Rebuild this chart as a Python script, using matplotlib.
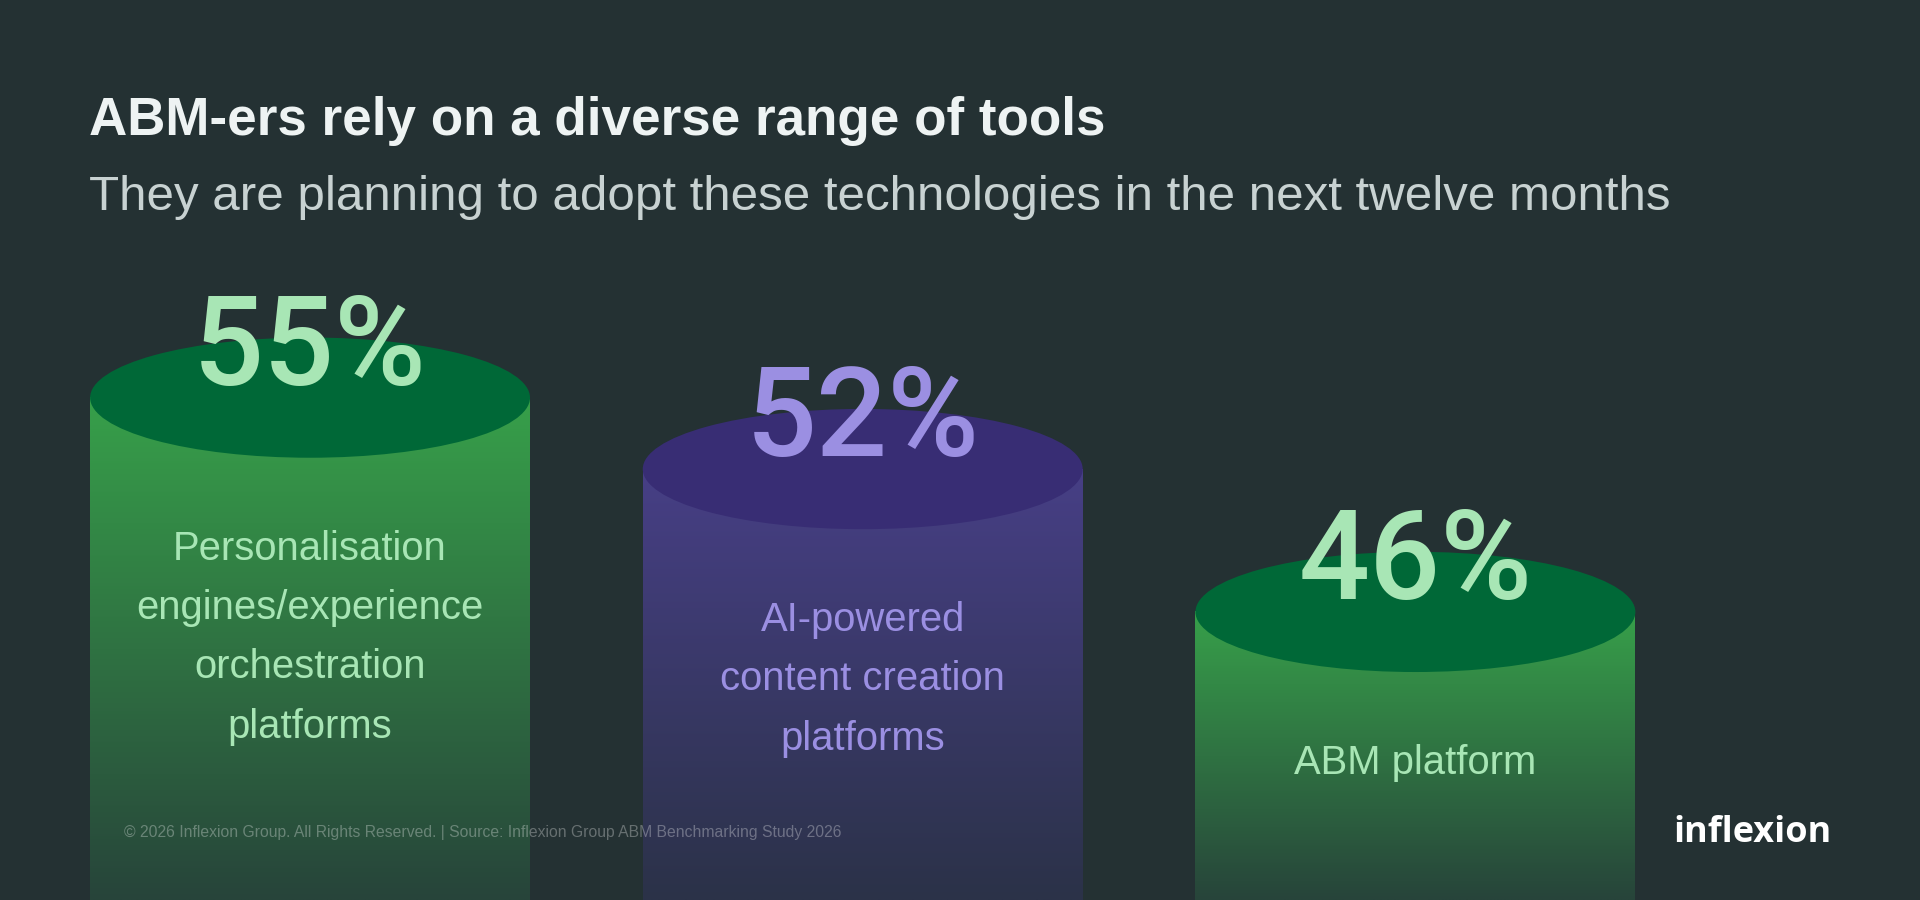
import numpy as np
import matplotlib.pyplot as plt
from matplotlib.patches import Ellipse
from matplotlib.colors import to_rgba

# data
tools = ['Personalisation\nengines/experience\norchestration\nplatforms',
         'AI-powered\ncontent creation\nplatforms',
         'ABM platform']
shares = [55, 52, 46]

cap_colors = ['#006837', '#382d74', '#006837']
body_top = ['#37a04a', '#473f86', '#37a04a']
body_bottom = ['#27443a', '#2b3248', '#27443a']
text_colors = ['#a8e6b5', '#9b8fe2', '#a8e6b5']

title = 'ABM-ers rely on a diverse range of tools'
subtitle = 'They are planning to adopt these technologies in the next twelve months'
footer = '\u00a9 2026 Inflexion Group. All Rights Reserved. | Source: Inflexion Group ABM Benchmarking Study 2026'
logo = 'inflexion'

BG = '#243133'
W, H, DPI = 1920, 900, 72   # at 72 dpi one point is one pixel

fig = plt.figure(figsize=(W / DPI, H / DPI), dpi=DPI, facecolor=BG)
ax = fig.add_axes([0, 0, 1, 1])
ax.set_facecolor(BG)
ax.axis('off')

# invisible value axis: cylinders start below the frame
y_lo, y_hi = 33.9, 71.7
x_lo, x_hi = -0.561, 2.913
bar_w = 0.796
cap_h = 5.05

x = np.arange(len(shares))
grad = np.linspace(0, 1, 256)[:, None]
for i, v in enumerate(shares):
    c0 = np.array(to_rgba(body_bottom[i]))
    c1 = np.array(to_rgba(body_top[i]))
    img = (c0 + (c1 - c0) * grad)[:, None, :]
    ax.imshow(img, extent=(x[i] - bar_w / 2, x[i] + bar_w / 2, y_lo, v),
              origin='lower', aspect='auto', interpolation='bilinear', zorder=1)
    ax.add_patch(Ellipse((x[i], v), bar_w, cap_h, facecolor=cap_colors[i],
                         edgecolor='none', zorder=2))
    ax.annotate(f'{v}%', (x[i], v), xytext=(0, 13), textcoords='offset points',
                ha='center', va='baseline', fontsize=125, color=text_colors[i],
                family=['Roboto', 'DejaVu Sans'], fontweight='medium', zorder=3)
    # label block hangs below the cap
    ax.annotate(tools[i], (x[i], v), xytext=(0, -132), textcoords='offset points',
                ha='center', va='top', fontsize=40, color=text_colors[i],
                family=['Liberation Sans', 'DejaVu Sans'], linespacing=1.71,
                multialignment='center', zorder=3)

ax.set_xlim(x_lo, x_hi)
ax.set_ylim(y_lo, y_hi)

fig.text(89 / W, 1 - 135 / H, title, fontsize=53, fontweight='bold', color='#eef3f3',
         family=['Liberation Sans', 'DejaVu Sans'], va='baseline')
fig.text(89 / W, 1 - 210 / H, subtitle, fontsize=49.2, color='#c8d2d2',
         family=['Liberation Sans', 'DejaVu Sans'], va='baseline')
fig.text(124 / W, 1 - 837 / H, footer, fontsize=15.8, color='white', alpha=0.3,
         family=['Liberation Sans', 'DejaVu Sans'], va='baseline', zorder=5)
fig.text(1752 / W, 1 - 842 / H, logo, fontsize=36, fontweight='bold', color='white',
         family=['Open Sans', 'DejaVu Sans'], ha='center', va='baseline', zorder=5)

fig.savefig('out.png', dpi=DPI, facecolor=BG)
